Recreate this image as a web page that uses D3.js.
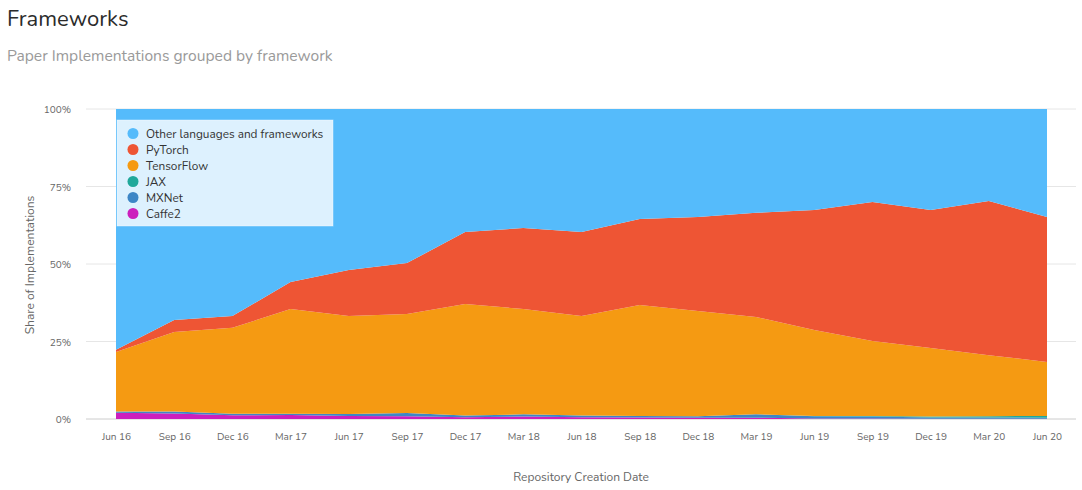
<!DOCTYPE html>
<html><head><meta charset="utf-8">
<script src="https://cdn.jsdelivr.net/npm/d3@7"></script>
<style>
body{margin:0;background:#fff;}
svg{display:block;font-family:"Nunito","Lato","Open Sans",sans-serif;}
</style></head>
<body>
<svg id="c" width="1082" height="490"></svg>
<script>
const quarters = ["Jun 16","Sep 16","Dec 16","Mar 17","Jun 17","Sep 17","Dec 17","Mar 18","Jun 18","Sep 18","Dec 18","Mar 19","Jun 19","Sep 19","Dec 19","Mar 20","Jun 20"];
const caffe2 =     [2.0,1.8,1.2,1.3,1.0,0.9,0.6,0.8,0.6,0.5,0.4,0.4,0.2,0.2,0.1,0.1,0.1];
const mxnet =      [0.4,0.6,0.5,0.4,0.6,1.0,0.5,0.7,0.5,0.5,0.5,1.1,0.7,0.6,0.4,0.4,0.3];
const jax =        [0,0,0,0,0,0,0,0,0,0,0,0,0.1,0.2,0.3,0.4,0.6];
const tensorflow = [19.2,25.7,27.7,33.8,31.6,32.0,36.0,34.0,32.1,35.8,33.9,31.4,27.7,24.2,22.1,19.7,17.4];
const pytorch =    [0.7,3.8,3.8,8.7,14.9,16.4,23.2,26.1,27.1,27.7,30.4,33.6,38.7,44.8,44.5,49.7,46.8];
const other =      [77.7,68.1,66.8,55.8,51.9,49.7,39.7,38.4,39.7,35.5,34.8,33.5,32.6,30.0,32.6,29.7,34.8];
const seriesNames = ["Other languages and frameworks","PyTorch","TensorFlow","JAX","MXNet","Caffe2"];
const seriesColors = ["#55bbfb","#ee5534","#f59a12","#20a89a","#3d86c6","#cc1fbd"];
const yTicks = [0,25,50,75,100];

const svg = d3.select("#c");
const seriesData = [other, pytorch, tensorflow, jax, mxnet, caffe2];
const rows = quarters.map((q,i)=>{
  const r = {q};
  seriesNames.forEach((n,k)=>{ r[n] = seriesData[k][i]; });
  return r;
});
const stackKeys = seriesNames.slice().reverse();
const stack = d3.stack().keys(stackKeys).offset(d3.stackOffsetExpand)(rows);

const x = d3.scalePoint().domain(quarters).range([116,1047]);
const y = d3.scaleLinear().domain([0,1]).range([419,109]);

// title
svg.append("text").attr("x",7).attr("y",26).attr("font-size",22).attr("fill","#2b2b2b").text("Frameworks");
svg.append("text").attr("x",7).attr("y",61).attr("font-size",15.6).attr("fill","#9a9a9a").text("Paper Implementations grouped by framework");

// grid
const grid = svg.append("g");
yTicks.forEach(t=>{
  grid.append("line").attr("x1",86).attr("x2",1076).attr("y1",y(t/100)).attr("y2",y(t/100))
    .attr("stroke", t===0 ? "#cccccc" : "#e6e6e6").attr("stroke-width",1);
  grid.append("text").attr("x",71).attr("y",y(t/100)+4).attr("text-anchor","end")
    .attr("font-size",10).attr("fill","#666").text(t+"%");
});

// areas
const area = d3.area().x(d=>x(d.data.q)).y0(d=>y(d[0])).y1(d=>y(d[1]));
const colorOf = n => seriesColors[seriesNames.indexOf(n)];
svg.append("g").selectAll("path").data(stack).join("path")
  .attr("d", area).attr("fill", d=>colorOf(d.key));

// x axis labels
const xa = svg.append("g").attr("transform","translate(0,419)")
  .call(d3.axisBottom(x).tickSize(0).tickPadding(14));
xa.select(".domain").remove();
xa.selectAll("text").attr("font-size",10).attr("fill","#666").attr("font-family","Nunito, Lato, 'Open Sans', sans-serif");

// axis titles
svg.append("text").attr("x",581).attr("y",481).attr("text-anchor","middle").attr("font-size",12).attr("fill","#666").text("Repository Creation Date");
svg.append("text").attr("transform","translate(34,265) rotate(-90)").attr("text-anchor","middle").attr("font-size",12).attr("fill","#666").text("Share of Implementations");

// legend
const lg = svg.append("g").attr("transform","translate(117,120)");
lg.append("rect").attr("width",216).attr("height",106).attr("fill","#ffffff").attr("fill-opacity",0.8)
  .attr("stroke","#ffffff").attr("stroke-opacity",0.4);
seriesNames.forEach((n,i)=>{
  const gy = 13.5 + i*16;
  lg.append("circle").attr("cx",16).attr("cy",gy).attr("r",5.5).attr("fill",seriesColors[i]);
  lg.append("text").attr("x",29).attr("y",gy+4).attr("font-size",11.8).attr("fill","#333").text(n);
});
</script>
</body></html>
